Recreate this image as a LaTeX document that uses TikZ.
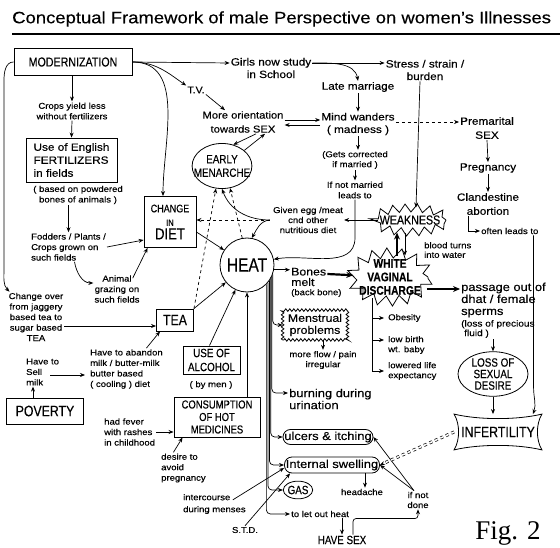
\documentclass[tikz,border=0pt]{standalone}
\usepackage{fontspec}
\setmainfont{Liberation Sans}[FakeStretch=1.12,FakeBold=0.3]
\newfontfamily\capsf{Liberation Sans}[FakeStretch=0.82,FakeBold=0.3]
\newfontfamily\figf{Liberation Serif}
\usepackage{tikz}
\usetikzlibrary{arrows.meta}
\usetikzlibrary{shapes.geometric}
\usetikzlibrary{decorations.pathmorphing}

\newcommand{\fsmall}{\fontsize{8.5}{10.5}\selectfont}
\newcommand{\fmid}{\fontsize{10.5}{12.5}\selectfont}
\newcommand{\fbig}{\fontsize{11.5}{12}\selectfont}

\begin{document}
\begin{tikzpicture}[x=1pt,y=-1pt,
  box/.style={rectangle,draw,line width=0.9pt,inner sep=2pt},
  txt/.style={align=center,inner sep=1pt,font=\fsmall},
  ltxt/.style={align=left,anchor=west,inner sep=1pt},
  jag/.style={line width=0.8pt,decorate,
    decoration={zigzag,segment length=12pt,amplitude=4pt}},
  oval/.style={rectangle,draw,line width=0.8pt,rounded corners=7.5pt,inner sep=1pt,font=\fbig},
  fat/.style={line width=2.2pt,-{Stealth[length=7pt,width=6pt]}}]
\useasboundingbox (0,0) rectangle (560,548);

\node[anchor=west,inner sep=0,font=\fontsize{16.5}{18}\selectfont] (title) at (12,19)
  {Conceptual Framework of male Perspective on women’s Illnesses};
\draw[line width=1.2pt] (12,34) -- (560,34);

\begin{scope}[every node/.style={box}]
    \node[font=\capsf\fontsize{13}{14}\selectfont,minimum width=118pt,minimum height=27pt] (mod) at (73,62) {MODERNIZATION};
    \node[font=\fontsize{10.5}{13}\selectfont,align=left,minimum width=91pt,minimum height=44pt] (fert) at (71.5,160) {Use of English\\FERTILIZERS\\in fields};
    \node[font=\capsf\fontsize{11}{13.5}\selectfont,align=center,minimum width=52pt,minimum height=51pt,inner sep=1pt] (diet) at (170,222)
      {CHANGE\\{\fontsize{9}{10}\selectfont IN}\\{\fontsize{16}{16}\selectfont DIET}};
    \node[font=\capsf\fontsize{15}{16}\selectfont,minimum width=37pt,minimum height=22pt] (tea) at (175,320) {TEA};
    \node[font=\capsf\fontsize{12}{14}\selectfont,align=center,minimum width=57pt,minimum height=28pt,inner sep=1pt] (alcohol) at (211.5,360) {USE OF\\ALCOHOL};
    \node[font=\capsf\fontsize{11.5}{12.5}\selectfont,align=center,minimum width=86pt,minimum height=40pt,inner sep=1pt] (hotmed) at (217,417) {CONSUMPTION\\OF HOT\\MEDICINES};
    \node[font=\capsf\fontsize{15}{16}\selectfont,minimum width=77pt,minimum height=26pt] (poverty) at (45,411) {POVERTY};
\end{scope}

\begin{scope}[every node/.style={draw,line width=0.8pt,inner sep=0pt,align=center}]
    \node[circle,minimum size=54pt,font=\capsf\fontsize{19}{20}\selectfont] (heat) at (247,265) {HEAT};
    \node[ellipse,inner xsep=-7pt,inner ysep=5pt,font=\capsf\fontsize{12}{13.5}\selectfont] (menarche) at (222,166) {EARLY\\MENARCHE};
    \node[ellipse,minimum width=70pt,minimum height=44pt,font=\capsf\fontsize{12}{11.5}\selectfont] (loss) at (493,374) {LOSS OF\\SEXUAL\\DESIRE};
    \node[ellipse,inner xsep=0pt,inner ysep=2pt,font=\capsf\fontsize{12}{13}\selectfont] (gas) at (298,490) {GAS};
    \node[oval,minimum width=90pt,minimum height=15pt] (ulcers) at (328,437) {ulcers \& itching};
    \node[oval,minimum width=95pt,minimum height=16pt] (swelling) at (332,465) {Internal swelling};
    \node[draw=none,ellipse,inner xsep=-8pt,inner ysep=4pt,font=\capsf\fontsize{13}{14}\selectfont] (weak) at (410,220) {WEAKNESS};
    \node[draw=none,ellipse,inner xsep=-5pt,inner ysep=-3pt,
      font=\capsf\bfseries\fontsize{12.5}{13.5}\selectfont] (white) at (390,277) {WHITE\\VAGINAL\\DISCHARGE};
    \node[draw=none,rectangle,minimum width=64pt,minimum height=29pt,inner sep=3pt,font=\fontsize{11}{12}\selectfont] (menstrual) at (315,325) {Menstrual\\problems};
    \node[draw=none,minimum width=87pt,minimum height=35pt,font=\capsf\fontsize{15}{16}\selectfont] (inf) at (498,432) {INFERTILITY};
\end{scope}
\draw[jag] (weak.center) ellipse [x radius=36pt,y radius=12pt];
\draw[jag,decoration={zigzag,segment length=14pt,amplitude=5pt}] (white.center) ellipse [x radius=38pt,y radius=24pt];
\draw[jag,decoration={zigzag,segment length=4pt,amplitude=1.3pt}] (menstrual.south west) rectangle (menstrual.north east);
\draw[line width=0.8pt] (inf.north west) .. controls +(25,6) and +(-25,6) .. (inf.north east)
  .. controls +(-6,10) and +(-6,-10) .. (inf.south east)
  .. controls +(-25,-6) and +(25,-6) .. (inf.south west)
  .. controls +(6,-10) and +(6,10) .. (inf.north west) -- cycle;

\begin{scope}[every node/.style={txt}]
    \node (crops) at (72,111) {Crops yield less\\without fertilizers};
    \node (bones) at (78,195) {( based on powdered\\bones of animals )};
    \node[ltxt] (fodder) at (30,247) {Fodders / Plants /\\Crops grown on\\such fields};
    \node (graze) at (117,289) {Animal\\grazing on\\such fields};
    \node (changeover) at (36,317) {Change over\\from jaggery\\based tea to\\sugar based\\TEA};
    \node[ltxt] (abandon) at (89,369) {Have to abandon\\milk / butter-milk\\butter based\\( cooling ) diet};
    \node[ltxt] (sell) at (25,372) {Have to\\Sell\\milk};
    \node[ltxt] (fever) at (103,432) {had fever\\with rashes\\in childhood};
    \node[ltxt] (desire) at (160,468) {desire to\\avoid\\pregnancy};
    \node (byman) at (211,385) {( by men )};
    \node[font=\fontsize{9.5}{11}\selectfont] (tv) at (196,90) {T.V.};
    \node[font=\fontsize{10}{14}\selectfont] (orient) at (243,122) {More orientation\\towards SEX};
    \node[font=\fmid] (girls) at (271,68) {Girls now study\\in School};
    \node[font=\fmid] (late) at (358,87) {Late marriage};
    \node[font=\fmid] (mind) at (358,124) {Mind wanders\\( madness )};
    \node[font=\fmid] (stress) at (425,70) {Stress / strain /\\burden};
    \node[font=\fontsize{10.5}{14}\selectfont] (premarital) at (487,128) {Premarital\\SEX};
    \node[font=\fmid] (pregnancy) at (488,168) {Pregnancy};
    \node[font=\fontsize{10.5}{14}\selectfont] (abortion) at (488,204) {Clandestine\\abortion};
    \node[ltxt,font=\fsmall] (often) at (480,231) {often leads to};
    \node[font=\fontsize{8.5}{10}\selectfont] (corrected) at (355,160) {(Gets corrected\\if married )};
    \node (notmarried) at (355,190) {If not married\\leads to};
    \node[font=\fontsize{8.5}{10}\selectfont] (given) at (308,220) {Given egg /meat\\cnd other\\nutritious diet};
    \node[ltxt,font=\fontsize{8.5}{9.5}\selectfont] (blood) at (423,250) {blood turns\\into water};
    \node[ltxt,font=\fontsize{11.5}{12}\selectfont] (passage) at (460,300) {passage out of\\dhat / female\\sperms};
    \node[ltxt,font=\fontsize{9}{9.5}\selectfont] (fluid) at (460,329) {(loss of precious\\\hspace{3pt}fluid )};
    \node[ltxt,font=\fontsize{11}{10.5}\selectfont] (bonesmelt) at (290,277) {Bones\\melt};
    \node[ltxt,font=\fsmall] (backbone) at (290,293) {(back bone)};
    \node[font=\fontsize{8.5}{10}\selectfont] (flow) at (323,360) {more flow / pain\\irregular};
    \node[ltxt,font=\fontsize{11.5}{12}\selectfont] (burning) at (288,399) {burning during\\urination};
    \node (headache) at (362,492) {headache};
    \node[ltxt,font=\fsmall] (letout) at (290,514) {to let out heat};
    \node[font=\capsf\fontsize{12}{13}\selectfont] (havesex) at (342,540) {HAVE SEX};
    \node[ltxt,font=\fontsize{8.5}{12}\selectfont] (intercourse) at (182,504) {intercourse\\during menses};
    \node (std) at (245,530) {S.T.D.};
    \node[ltxt,font=\fsmall] (obesity) at (387,318) {Obesity};
    \node[ltxt,font=\fontsize{8.5}{10}\selectfont] (lowbirth) at (387,345) {low birth\\wt. baby};
    \node[ltxt,font=\fontsize{8.5}{10}\selectfont] (lowered) at (387,371) {lowered life\\expectancy};
    \node[font=\fontsize{8.5}{10}\selectfont] (ifnot) at (418,500) {if not\\done};
    \node[inner sep=0,font=\figf\fontsize{27}{28}\selectfont] (fig) at (508,533) {Fig. 2};
\end{scope}

\begin{scope}[line width=0.7pt,>={Stealth[length=5pt,width=4pt]},
              every edge/.style={draw=black,line width=0.7pt}]
    \path [->] (mod.east) edge ([yshift=5]girls.west);
    \path [->] (mod.east) edge[out=0,in=145] (tv.north west);
    \path [->] (mod.east) edge[out=0,in=90] ([xshift=-7]diet.north);
    \path [->] (crops.north |- mod.south) edge (crops.north);
    \path [->] (crops.south) edge (fert.north);
    \path [->] (bones.south -| fodder.north) edge (fodder.north);
    \path [->] (fodder.east) edge ([yshift=-18]diet.west);
    \path [->] ([xshift=6]fodder.south) edge[out=-80,in=180] ([yshift=6]graze.west);
    \path [->] ([xshift=-8,yshift=-4]graze.north east) edge ([xshift=4]diet.south west);
    \draw [->] (mod.west) to[out=180,in=90] (4,80) -- (4,268) to[out=-90,in=135] ([xshift=2]changeover.north west);
    \path [->] ([yshift=-9]changeover.east) edge ([yshift=-9]changeover.east -| tea.west);
    \path [->] ([xshift=20]abandon.north) edge ([xshift=-15]tea.south);
    \path [->] ([xshift=-10,yshift=-3]sell.east) edge ([xshift=-4,yshift=-3]sell.east -| abandon.west);
    \path [->] ([xshift=-12]poverty.north) edge ([xshift=-12]poverty.north |- sell.south);
    \path [->] (fever.east) edge (fever.east -| hotmed.west);
    \path [->] ([xshift=-10]desire.north) edge ([xshift=9]hotmed.south west);
    \path [->] (hotmed.north -| heat.south) edge (heat.south);
    \path [->] ([xshift=-2]alcohol.north) edge (heat);
    \path [->] (tea.north east) edge (heat);
    \path [->] ([yshift=-10]diet.east) edge (heat);

    \path [->] (tv.south east) edge ([xshift=-18]orient.north);
    \path [->] ([yshift=2]orient.east) edge ([yshift=2]orient.east -| mind.west);
    \path [->] ([yshift=-3]orient.east -| mind.west) edge ([yshift=-3]orient.east);
    \path [->] (menarche.35) edge ([xshift=22]orient.south);
    \path [->] ([xshift=13]orient.south) edge (menarche.62);
    \path [->] ([yshift=5]girls.east) edge[out=0,in=100] (late.north);
    \path [->] ([yshift=5]girls.east) edge ([yshift=7]stress.west);
    \path [->] (late.south) edge (mind.north);
    \path [->] (mind.south) edge (mind.south |- corrected.north);
    \path [->] (corrected.south) edge (notmarried.north);
    \draw [->] (notmarried.south) -- ([yshift=-38]notmarried.south) to[out=-90,in=10] (heat.12);
    \path [->,dashed] ([yshift=2]mind.east) edge ([yshift=2]mind.east -| premarital.west);
    \path [->] (premarital.south) edge (pregnancy.north);
    \path [->] (pregnancy.south) edge (abortion.north);
    \draw [->] ([xshift=-20]abortion.south) |- (often.west);
    \draw [->] ([xshift=-6]often.south east) -- ++(0,152) to[out=-90,in=70] ([xshift=-9]inf.north east);
    \path [->] ([xshift=-5]stress.south) edge ([xshift=6]weak.north);

    \path [->] (weak.west) edge (given.east);
    \coordinate (gv) at ([xshift=-2]given.west);
    \path [->,dashed] (gv) edge (gv -| diet.east);
    \path [->] (gv) edge[out=180,in=-70] (menarche.south);
    \path [->] (gv) edge[out=185,in=60] (heat.80);
    \path [->,dashed] (tea.north east) edge (menarche.-105);
    \path [->,dashed] (heat.100) edge (menarche.-70);

    \draw [fat] ([xshift=7]white.north) -- ([xshift=7]white.north |- weak.south);
    \draw [->] ([xshift=-5]weak.south) -- ([xshift=-5]weak.south |- white.north);
    \draw [fat] ([yshift=-12]white.east) -- ([yshift=-12]white.east -| passage.west);
    \draw [fat] ([yshift=3]bonesmelt.east) -- (white);
    \path [->] (fluid.south -| loss.north) edge (loss.north);
    \path [->] (loss.south) edge (loss.south |- inf.north);
    \coordinate (wl) at ([xshift=-18]white.south);
    \draw [->] (wl) |- ([xshift=-3]obesity.west);
    \draw [->] (wl) |- ([xshift=-3,yshift=5]lowbirth.west);
    \draw [->] (wl) |- ([xshift=-3]lowered.west);

    \draw [->] (heat.-10) -- (heat.-10 -| bonesmelt.west);
    \draw [->,rounded corners=4pt] (heat.-20) |- (menstrual.west);
    \draw [->,rounded corners=4pt] (heat.-25) |- ([yshift=6]burning.west);
    \draw [->,rounded corners=4pt] (heat.-30) |- (ulcers.west);
    \draw [->,rounded corners=4pt] (heat.-35) |- (swelling.west);
    \draw [->,rounded corners=4pt] (heat.-40) |- (gas.west);
    \draw [->,rounded corners=4pt] (heat.-45) |- (letout.west);
    \path [->] (menstrual.south -| flow.north) edge (flow.north);
    \path [->] ([xshift=33]swelling.south) edge ([xshift=33]swelling.south |- headache.north);
    \path [->] (letout.south -| havesex.north) edge (havesex.north);
    \draw [->,rounded corners=3pt] ([xshift=11]havesex.north) -- ++(0,-16) -| (ifnot.south);
    \path [->] ([xshift=-4]ifnot.north) edge (ulcers.east);
    \path [->] ([xshift=-4]ifnot.north) edge (swelling.east);
    \path [->] ([xshift=-14,yshift=-7]intercourse.north east) edge ([yshift=-3]swelling.west);
    \path [->] (std.north) edge ([xshift=6]swelling.south west);
    \draw [->,dashed,double,double distance=1.6pt] (inf.west) -- (swelling.east);
\end{scope}
\end{tikzpicture}
\end{document}
